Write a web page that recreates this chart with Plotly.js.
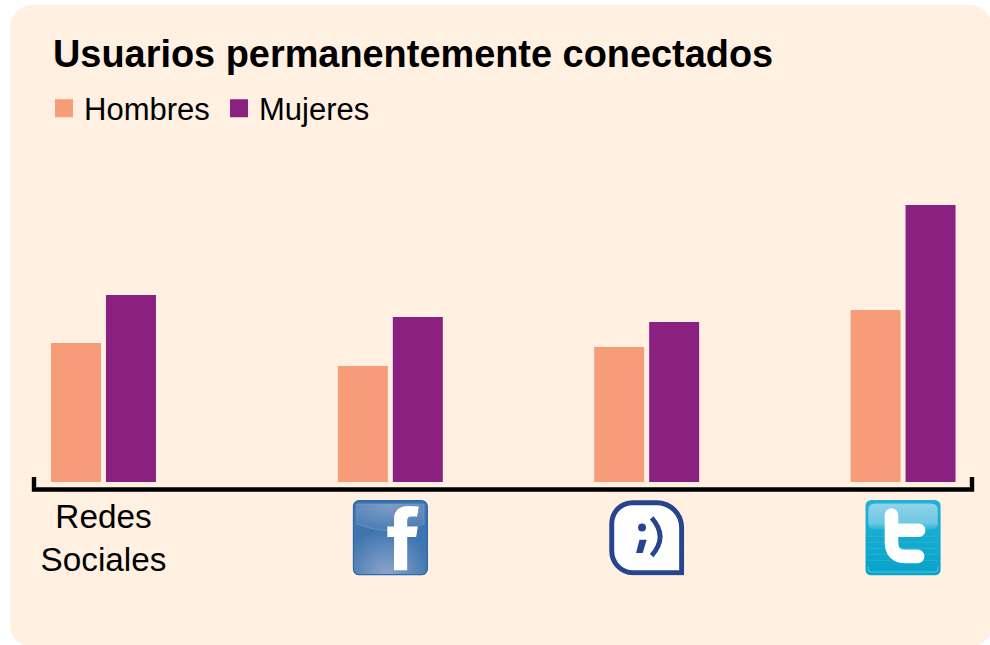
<!DOCTYPE html>
<html>
<head>
<meta charset="utf-8">
<script src="https://cdn.plot.ly/plotly-3.0.0.min.js"></script>
<style>
html,body{margin:0;padding:0;width:990px;height:645px;overflow:hidden;background:#fff}
#card{position:absolute;left:10px;top:5px;width:982px;height:642px;border-radius:22px;background:#FFF0E1}
#chart{position:absolute;left:0;top:0;width:990px;height:645px}
</style>
</head>
<body>
<div id="card"></div>
<div id="chart"></div>
<script>
const categories = ["Redes Sociales", "Facebook", "Tuenti", "Twitter"];
const tickLabels = ["Redes<br>Sociales", "", "", ""];
const groupPositions = [0, 1.119, 2.119, 3.119];
const hombres = [6.95, 5.8, 6.75, 8.6];
const mujeres = [9.35, 8.25, 8.0, 13.85];

const svgUri = s => "data:image/svg+xml;charset=utf-8," + encodeURIComponent(s);

const facebookIcon = svgUri(`<svg xmlns="http://www.w3.org/2000/svg" width="228" height="228" viewBox="0 0 76 76">
<defs>
<radialGradient id="a" cx="0.45" cy="1.0" r="0.62"><stop offset="0" stop-color="#8ea5cd"/><stop offset="1" stop-color="#3f75af"/></radialGradient>
<radialGradient id="b" cx="0.5" cy="0.1" r="0.8"><stop offset="0" stop-color="#7c9bc6"/><stop offset="1" stop-color="#4f80b6"/></radialGradient>
</defs>
<rect x="0.7" y="0.7" width="74.6" height="74.6" rx="6" fill="url(#a)" stroke="#2a69ad" stroke-width="1.4"/>
<path d="M4 4H72V24Q38 38 4 24Z" fill="url(#b)" stroke="#8faad0" stroke-width="0.45"/>
<path d="M41.7 70.7V37.3H35V26.7H41.7V19C41.7 10 48 6 56 6L66.7 6.5L65 16.5H59C56 16.5 55 18 55 21V26.7H65.7L64 37.3H55V70.7Z" fill="#fff"/>
</svg>`);

const tuentiIcon = svgUri(`<svg xmlns="http://www.w3.org/2000/svg" width="228" height="228" viewBox="0 0 76 76">
<path d="M24 2.8H48C62 2.8 73.2 14 73.2 28V73.2H24C12 73.2 2.8 63 2.8 51V24C2.8 12 12 2.8 24 2.8Z" fill="#fff" stroke="#27458f" stroke-width="5"/>
<circle cx="33.3" cy="27.7" r="4" fill="#27458f"/>
<path d="M30.7 40H38L34 53.3H27.3Z" fill="#27458f"/>
<path d="M43 18Q60 37 43 56" fill="none" stroke="#27458f" stroke-width="4.8"/>
</svg>`);

const twitterIcon = svgUri(`<svg xmlns="http://www.w3.org/2000/svg" width="228" height="228" viewBox="0 0 75 75">
<defs>
<linearGradient id="g" x1="0" y1="0" x2="0" y2="1"><stop offset="0" stop-color="#22b2d6"/><stop offset="1" stop-color="#08a3c9"/></linearGradient>
<linearGradient id="h" x1="0" y1="0" x2="0" y2="1"><stop offset="0" stop-color="#92d2ea"/><stop offset="0.75" stop-color="#6fc8e2"/><stop offset="1" stop-color="#2eb6d8"/></linearGradient>
</defs>
<rect width="75" height="75" rx="6" fill="url(#g)"/>
<path d="M3 10Q3 3.5 10 3.5H65Q72 3.5 72 10V24Q72 29 66 29H9Q3 29 3 24Z" fill="url(#h)"/>
<g stroke="#7fd0e6" stroke-width="0.5" opacity="0.45">
<path d="M3 11H72M3 16H72M3 21H72M3 36H72M3 42H72M3 48H72M3 54H72M3 60H72"/>
</g>
<path d="M3 66V69Q3 71.5 6 71.5H69Q72 71.5 72 69V66" fill="none" stroke="#4cc2dd" stroke-width="1"/>
<path d="M26 15V42Q26 56 40 56H52M26 30H53" fill="none" stroke="#fff" stroke-width="13.5" stroke-linecap="round"/>
</svg>`);

const icons = [facebookIcon, tuentiIcon, twitterIcon];
const plotHeight = 342, unit = 256.5;

const traces = [
  {type:"bar", name:"Hombres", x:groupPositions, y:hombres, text:categories, textposition:"none",
   width:0.195, offset:-0.2047, marker:{color:"#F69C78"}},
  {type:"bar", name:"Mujeres", x:groupPositions, y:mujeres, text:categories, textposition:"none",
   width:0.195, offset:0.0097, marker:{color:"#8A2080"}}
];

const layout = {
  width:990, height:645,
  barmode:"overlay",
  margin:{l:34, r:17.5, t:140, b:163, pad:0},
  paper_bgcolor:"rgba(0,0,0,0)", plot_bgcolor:"rgba(0,0,0,0)",
  font:{family:"Liberation Sans, Arial, sans-serif", color:"#000"},
  title:{text:"<b>Usuarios permanentemente conectados</b>", font:{size:37.9, color:"#000"},
         x:53/990, xanchor:"left", y:1-54/645, yanchor:"middle", xref:"container", yref:"container"},
  showlegend:true,
  legend:{orientation:"h", xref:"container", yref:"container", x:44/990, xanchor:"left",
          y:1-108.5/645, yanchor:"middle", font:{size:31}, traceorder:"normal",
          entrywidth:130, entrywidthmode:"pixels", bgcolor:"rgba(0,0,0,0)", borderwidth:0},
  xaxis:{type:"linear", range:[-0.271, 3.388], tickvals:groupPositions, ticktext:tickLabels,
         showgrid:false, zeroline:false, showline:false, ticks:"outside", ticklen:5,
         tickcolor:"rgba(0,0,0,0)", tickfont:{size:33.3}, tickangle:0, automargin:false},
  yaxis:{range:[0,17.1], visible:false, fixedrange:true},
  shapes:[{type:"path", xref:"paper", yref:"paper", line:{color:"#000", width:4.4},
           path:`M0,${5/plotHeight} L0,${-7.5/plotHeight} L1,${-7.5/plotHeight} L1,${5/plotHeight}`}],
  images:groupPositions.slice(1).map((p,i)=>({source:icons[i], xref:"x", yref:"paper",
           x:p, xanchor:"center", y:-18/plotHeight, yanchor:"top",
           sizex:75.5/unit, sizey:75.5/plotHeight, sizing:"stretch", layer:"above"}))
};

Plotly.newPlot("chart", traces, layout, {displayModeBar:false, staticPlot:true}).then(()=>{
  document.querySelectorAll(".legend .legendpoints path").forEach(p=>{
    const t = p.getAttribute("transform") || "";
    p.setAttribute("transform", t + " scale(1.5)");
    p.style.strokeWidth = "0";
  });
});
</script>
</body>
</html>
